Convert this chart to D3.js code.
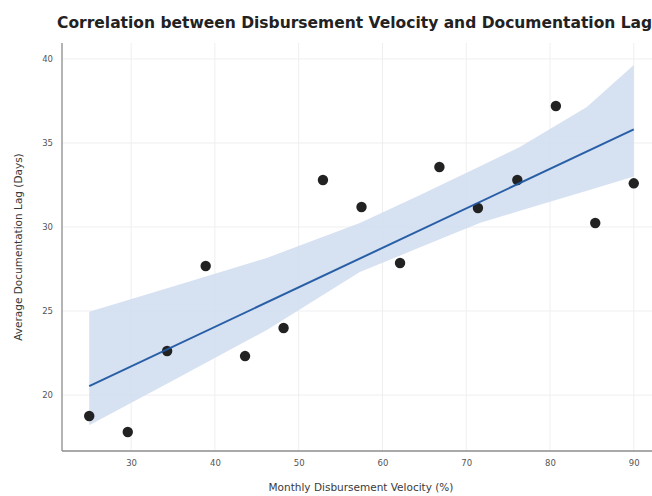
<!DOCTYPE html>
<html>
<head>
<meta charset="utf-8">
<script src="https://cdn.jsdelivr.net/npm/d3@7/dist/d3.min.js"></script>
<style>
  html, body { margin: 0; padding: 0; background: #fff; overflow: hidden; }
  svg { display: block; }
  text { font-family: "DejaVu Sans", sans-serif; }
</style>
</head>
<body>
<script>
// ---- data ----
const velocity = [25.0, 29.6, 34.3, 38.9, 43.6, 48.2, 52.9, 57.5, 62.1, 66.8, 71.4, 76.1, 80.7, 85.4, 90.0];
const docLag   = [18.75, 17.8, 22.62, 27.68, 22.32, 23.99, 32.8, 31.19, 27.86, 33.57, 31.13, 32.8, 37.2, 30.24, 32.6];
// confidence band edges
const bandX    = [25, 35, 46.2, 57.3, 64.5, 71.6, 76.4, 84.4, 90];
const bandLow  = [18.2, 20.87, 23.87, 27.32, 28.79, 30.24, 30.96, 32.16, 33.0];
const bandHigh = [24.95, 26.46, 28.16, 30.24, 31.9, 33.6, 34.76, 37.14, 39.64];
const xTicks = [30, 40, 50, 60, 70, 80, 90];
const yTicks = [20, 25, 30, 35, 40];
const titleText = "Correlation between Disbursement Velocity and Documentation Lag";
const xLabel = "Monthly Disbursement Velocity (%)";
const yLabel = "Average Documentation Lag (Days)";

const W = 652, H = 496;
const svg = d3.select("body").append("svg").attr("width", W).attr("height", H);

const x = d3.scaleLinear().domain([21.75, 93.25]).range([62, 661]);
const y = d3.scaleLinear().domain([16.67, 40.95]).range([451, 43]);

// grid
const g = svg.append("g");
g.selectAll("line.vg").data(xTicks).join("line")
  .attr("x1", d => x(d)).attr("x2", d => x(d)).attr("y1", 43).attr("y2", 451)
  .attr("stroke", "#efefef").attr("stroke-width", 1);
g.selectAll("line.hg").data(yTicks).join("line")
  .attr("y1", d => y(d)).attr("y2", d => y(d)).attr("x1", 62).attr("x2", 661)
  .attr("stroke", "#efefef").attr("stroke-width", 1);

// regression (OLS on the points)
const mx = d3.mean(velocity), my = d3.mean(docLag);
let sxy = 0, sxx = 0;
velocity.forEach((v, i) => { sxy += (v - mx) * (docLag[i] - my); sxx += (v - mx) ** 2; });
const slope = sxy / sxx, intercept = my - slope * mx;

// band
const band = bandX.map((v, i) => ({x: v, lo: bandLow[i], hi: bandHigh[i]}));
svg.append("path").datum(band)
  .attr("d", d3.area().x(d => x(d.x)).y0(d => y(d.lo)).y1(d => y(d.hi)))
  .attr("fill", "#cfdcee").attr("opacity", 0.85);

// points
svg.selectAll("circle").data(velocity).join("circle")
  .attr("cx", d => x(d)).attr("cy", (d, i) => y(docLag[i])).attr("r", 5.2)
  .attr("fill", "#222");

// line
const x0 = d3.min(velocity), x1 = d3.max(velocity);
svg.append("line")
  .attr("x1", x(x0)).attr("y1", y(intercept + slope * x0))
  .attr("x2", x(x1)).attr("y2", y(intercept + slope * x1))
  .attr("stroke", "#1f58a3").attr("stroke-width", 2).attr("opacity", 0.95);

// axes
const xAxis = svg.append("g").attr("transform", "translate(0,451)")
  .call(d3.axisBottom(x).tickValues(xTicks).tickSize(0).tickPadding(9));
const yAxis = svg.append("g").attr("transform", "translate(62,0)")
  .call(d3.axisLeft(y).tickValues(yTicks).tickSize(0).tickPadding(9));
[xAxis, yAxis].forEach(a => {
  a.select(".domain").attr("stroke", "#8c8c8c").attr("stroke-width", 1.3);
  a.selectAll("text").attr("font-size", 8.5).attr("fill", "#555").attr("font-family", "DejaVu Sans, sans-serif");
});
xAxis.select(".domain").attr("d", "M62,0H661");
yAxis.select(".domain").attr("d", "M0,43V451");

// labels
svg.append("text").attr("x", 361).attr("y", 491).attr("text-anchor", "middle")
  .attr("font-size", 10.5).attr("fill", "#3a3a3a").text(xLabel);
svg.append("text").attr("transform", "translate(22,247) rotate(-90)").attr("text-anchor", "middle")
  .attr("font-size", 10.5).attr("fill", "#3a3a3a").text(yLabel);
svg.append("text").attr("x", 57).attr("y", 28).attr("text-anchor", "start")
  .attr("font-size", 15.5).attr("font-weight", "bold").attr("fill", "#222").text(titleText);
</script>
</body>
</html>
